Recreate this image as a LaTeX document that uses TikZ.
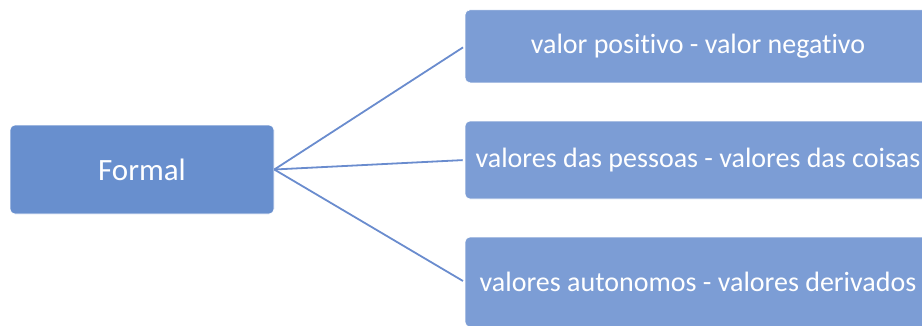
\documentclass[tikz,border=0pt]{standalone}
\usepackage{fontspec}
\setmainfont[Ligatures={NoCommon,NoRare}]{Carlito}
\definecolor{leftfill}{RGB}{104,143,206}
\definecolor{rightfill}{RGB}{124,157,213}
\definecolor{linkcol}{RGB}{106,140,206}
\begin{document}
\begin{tikzpicture}[x=1pt,y=-1pt,
  leftbox/.style={fill=leftfill,draw=white,line width=0.6pt,rounded corners=5pt,text=white,inner sep=0pt,
    minimum width=264pt,minimum height=89pt,font=\fontsize{31}{35}\selectfont},
  rightbox/.style={fill=rightfill,draw=white,line width=0.6pt,rounded corners=5pt,text=white,inner sep=0pt,
    minimum width=466pt,font=\fontsize{28}{32}\selectfont},
  link/.style={draw=linkcol,line width=1.8pt,shorten >=2pt}]
\useasboundingbox (0,0) rectangle (922,325);
\clip (0,0) rectangle (922,325);
\node[leftbox] (f) at (142,169.5) {Formal};
\node[rightbox,minimum height=73pt] (b1) at (698,46.3) {valor positivo - valor negativo};
\node[rightbox,minimum height=78pt] (b2) at (698,160) {valores das pessoas - valores das coisas};
\node[rightbox,minimum height=90pt] (b3) at (698,282) {valores autonomos - valores derivados};
\draw[link] (f.east) -- (b1.west);
\draw[link] (f.east) -- (b2.west);
\draw[link] (f.east) -- (b3.west);
\end{tikzpicture}
\end{document}
